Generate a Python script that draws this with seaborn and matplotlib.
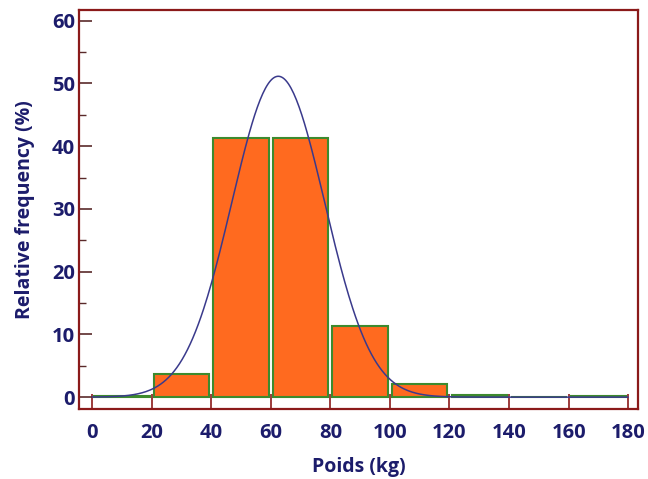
import numpy as np
import pandas as pd
import matplotlib
matplotlib.use("Agg")
import matplotlib.pyplot as plt
import seaborn as sns

# Data
bin_edges = [0, 20, 40, 60, 80, 100, 120, 140, 160, 180]
bin_mids = [10, 30, 50, 70, 90, 110, 130, 150, 170]
rel_freq = [0.2, 3.7, 41.3, 41.3, 11.3, 2.1, 0.3, 0.0, 0.2]
fit_mean = 62.5
fit_sd = 15.6
bin_width = 20

x_ticks = [0, 20, 40, 60, 80, 100, 120, 140, 160, 180]
y_ticks = [0, 10, 20, 30, 40, 50, 60]
y_minor = [5, 15, 25, 35, 45, 55]

navy = "#1c1c6b"
spine_red = "#8b1a1a"
bar_face = "#ff6a1f"
bar_edge = "#3d8a2e"
curve_col = "#3a3a8c"

sns.set_style("white")
plt.rcParams["font.family"] = ["Open Sans", "DejaVu Sans"]

fig = plt.figure(figsize=(6.48, 4.79), dpi=100)
ax = fig.add_axes([0.122, 0.146, 0.863, 0.833])

df = pd.DataFrame({"x": bin_mids, "w": rel_freq})
sns.histplot(data=df, x="x", weights="w", bins=bin_edges, shrink=0.93,
             color=bar_face, edgecolor=bar_edge, linewidth=1.5, alpha=1,
             ax=ax, zorder=2)

xs = np.linspace(0, 180, 400)
ys = 100 * bin_width * np.exp(-0.5 * ((xs - fit_mean) / fit_sd) ** 2) / (fit_sd * np.sqrt(2 * np.pi))
sns.lineplot(x=xs, y=ys, color=curve_col, linewidth=1.1, ax=ax, zorder=3)

ax.set_xlim(-4.4, 183.4)
ax.set_ylim(-1.9, 61.7)
ax.set_xticks(x_ticks)
ax.set_yticks(y_ticks)
ax.set_yticks(y_minor, minor=True)

for s in ax.spines.values():
    s.set_color(spine_red)
    s.set_linewidth(1.6)
    s.set_visible(True)

ax.tick_params(axis="x", direction="in", length=11, width=1.2, color=spine_red,
               labelsize=14.5, labelcolor=navy, pad=10, bottom=True)
ax.tick_params(axis="y", which="major", direction="in", length=9, width=1.2,
               color="#5a2a2a", labelsize=14.5, labelcolor=navy, pad=3, left=True)
ax.tick_params(axis="y", which="minor", direction="in", length=5, width=1.0,
               color="#5a2a2a", left=True)
for lab in ax.get_xticklabels() + ax.get_yticklabels():
    lab.set_fontweight("bold")

ax.set_xlabel("Poids (kg)", fontsize=14, fontweight="bold", color=navy, labelpad=10)
ax.set_ylabel("Relative frequency (%)", fontsize=14, fontweight="bold", color=navy, labelpad=12)

fig.savefig("out.png", dpi=100)
